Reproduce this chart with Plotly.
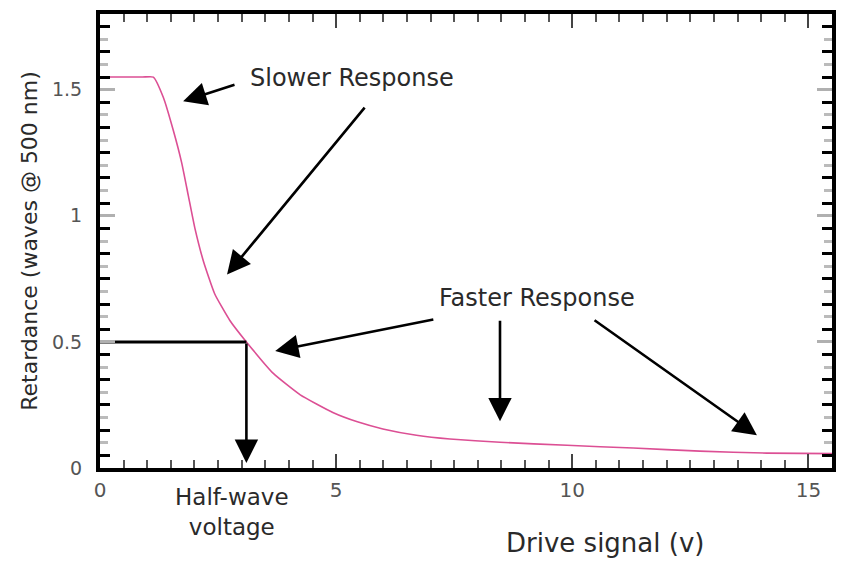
import plotly.graph_objects as go

# ---- data ----
drive_v = [0.0, 0.90, 1.13, 1.34, 1.55, 1.73, 1.87, 2.01, 2.19, 2.43, 2.75, 3.10, 3.67,
           4.24, 4.93, 5.45, 5.99, 6.70, 7.41, 8.47, 9.89, 11.29, 12.70, 14.12, 15.5]
retardance = [1.55, 1.55, 1.55, 1.47, 1.34, 1.21, 1.08, 0.95, 0.82, 0.69, 0.585, 0.50, 0.375,
              0.29, 0.22, 0.183, 0.155, 0.13, 0.115, 0.102, 0.090, 0.079, 0.067, 0.059, 0.057]

half_wave_v = 3.10
half_wave_r = 0.50

x_range = [0, 15.5]
y_range = [0, 1.8]

FONT = "DejaVu Sans"
TXT = "#2a2a2a"

fig = go.Figure()

fig.add_trace(go.Scatter(
    x=drive_v, y=retardance, mode="lines",
    line=dict(color="#dc4f94", width=1.6, shape="spline", smoothing=0.45),
    hoverinfo="skip", showlegend=False))

# half-wave horizontal marker line (from axis to the curve)
fig.add_trace(go.Scatter(
    x=[x_range[0], half_wave_v], y=[half_wave_r, half_wave_r], mode="lines",
    line=dict(color="black", width=3), hoverinfo="skip", showlegend=False,
    yaxis="y2"))

def arrow(x, y, ax, ay):
    fig.add_annotation(x=x, y=y, ax=ax, ay=ay, xref="x", yref="y", axref="x", ayref="y",
                       showarrow=True, arrowhead=2, arrowsize=1.8, arrowwidth=2.6,
                       arrowcolor="black", text="")

# half-wave vertical arrow down to the axis
arrow(half_wave_v, 0.02, half_wave_v, half_wave_r)
# slower response arrows
arrow(1.76, 1.454, 2.88, 1.521)
arrow(2.69, 0.767, 5.63, 1.435)
# faster response arrows
arrow(3.71, 0.464, 7.09, 0.590)
arrow(8.47, 0.185, 8.47, 0.590)
arrow(13.91, 0.130, 10.44, 0.590)

fig.add_annotation(x=5.34, y=1.545, xref="x", yref="y", text="Slower Response",
                   showarrow=False, font=dict(family=FONT, size=24, color=TXT))
fig.add_annotation(x=9.25, y=0.676, xref="x", yref="y", text="Faster Response",
                   showarrow=False, font=dict(family=FONT, size=24, color=TXT))
fig.add_annotation(x=2.79, y=-0.098, xref="x", yref="paper", text="Half-wave<br>voltage",
                   showarrow=False, xanchor="center", yanchor="middle",
                   font=dict(family=FONT, size=23, color=TXT))
fig.add_annotation(x=0.69, y=-0.166, xref="paper", yref="paper", text="Drive signal (v)",
                   showarrow=False, xanchor="center", yanchor="middle",
                   font=dict(family=FONT, size=26, color=TXT))

fig.update_layout(
    width=851, height=562,
    margin=dict(l=92, r=27, t=2, b=102),
    paper_bgcolor="white", plot_bgcolor="white",
    showlegend=False,
    xaxis=dict(
        range=x_range, tickmode="linear", tick0=0, dtick=5,
        ticks="inside", ticklen=14, tickwidth=1.5, tickcolor="#444",
        minor=dict(dtick=0.5, tick0=0, ticks="inside", ticklen=8, tickwidth=1.5, tickcolor="#555"),
        showline=True, linewidth=4, linecolor="black", mirror="ticks",
        showgrid=False, zeroline=False, ticklabelstandoff=1,
        tickfont=dict(family=FONT, size=20, color="#555"),
    ),
    yaxis=dict(
        range=y_range, tickmode="linear", tick0=0, dtick=0.5,
        ticks="inside", ticklen=15, tickwidth=3, tickcolor="#b0b0b0",
        minor=dict(dtick=0.1, tick0=0, ticks="inside", ticklen=8, tickwidth=3, tickcolor="#bbbbbb"),
        showline=True, linewidth=4, linecolor="black", mirror="ticks",
        showgrid=False, zeroline=False, ticklabelstandoff=10,
        tickfont=dict(family=FONT, size=19, color="#555"),
        title=dict(text="Retardance (waves @ 500 nm)", standoff=9,
                   font=dict(family=FONT, size=22, color=TXT)),
    ),
    yaxis2=dict(
        range=y_range, overlaying="y", side="left",
        tickmode="linear", tick0=0.05, dtick=0.1,
        ticks="inside", ticklen=10, tickwidth=3, tickcolor="black",
        showticklabels=False, showline=False, mirror="ticks",
        showgrid=False, zeroline=False,
    ),
)

fig.write_html("out.html")
